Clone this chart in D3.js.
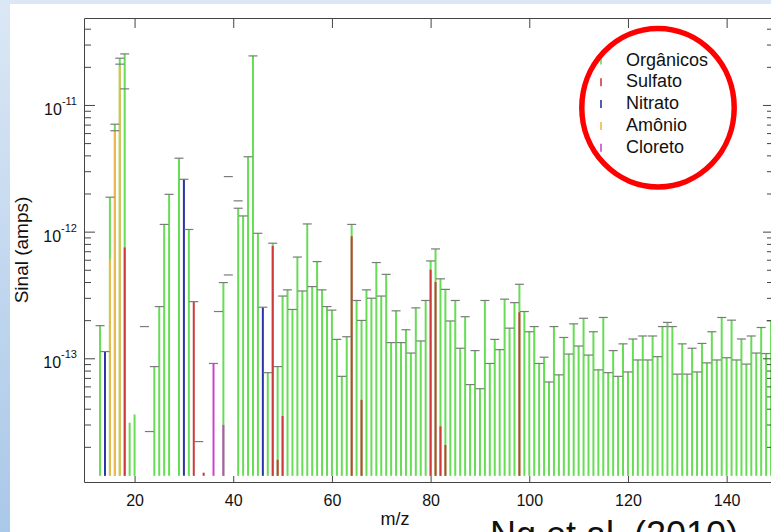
<!DOCTYPE html>
<html>
<head>
<meta charset="utf-8">
<script src="https://d3js.org/d3.v7.min.js"></script>
<style>
  body { margin: 0; overflow: hidden; background: #fff; }
  svg { display: block; }
  text { font-family: "Liberation Sans", Arial, sans-serif; fill: #111; }
</style>
</head>
<body>
<svg id="chart" width="771" height="532"></svg>
<script>
// m/z values and signal (amps)
const orgMz = [13, 15, 16, 17, 18, 19, 20, 24, 25, 26, 27, 29, 31, 38, 41, 42, 43, 44, 45, 47,
  48, 49, 50, 51, 52, 53, 54, 55, 56, 57, 58, 59, 60, 61, 62, 63, 64, 65, 66, 67,
  68, 69, 70, 71, 72, 73, 74, 75, 76, 77, 78, 79, 80, 81, 82, 83, 84, 85, 86, 87,
  88, 89, 90, 91, 92, 93, 94, 95, 96, 97, 98, 99, 100, 101, 102, 103, 104, 105, 106, 107,
  108, 109, 110, 111, 112, 113, 114, 115, 116, 117, 118, 119, 120, 121, 122, 123, 124, 125, 126, 127,
  128, 129, 130, 131, 132, 133, 134, 135, 136, 137, 138, 139, 140, 141, 142, 143, 144, 145, 146, 147,
  148, 149]
const orgVal = [1.81e-13, 1.87e-12, 7.05e-12, 2.34e-11, 2.53e-11, 3.1e-14, 3.6e-14, 8.6e-14, 2.56e-13, 1.14e-12, 1.97e-12, 3.8e-12, 1.04e-12, 3.96e-13, 1.53e-12, 1.33e-12, 3.9e-12, 2.44e-11, 9.7e-13, 7.7e-14,
  8.1e-13, 8.6e-14, 3.1e-13, 3.47e-13, 2.43e-13, 6.3e-13, 3.4e-13, 1.15e-12, 3.68e-13, 5.8e-13, 3.47e-13, 2.56e-13, 2.4e-13, 1.41e-13, 7.2e-14, 1.48e-13, 1.14e-12, 2.86e-13, 1.99e-13, 3.47e-13,
  2.98e-13, 5.7e-13, 3.1e-13, 4.6e-13, 1.33e-13, 2.37e-13, 1.33e-13, 1.68e-13, 1.1e-13, 2.5e-13, 1.37e-13, 2.86e-13, 5.87e-13, 7.3e-13, 4.24e-13, 3.5e-13, 1.97e-13, 2.86e-13, 1.2e-13, 2.13e-13,
  6.2e-14, 1.15e-13, 5.75e-14, 2.86e-13, 9.1e-14, 1.41e-13, 1.17e-13, 2.93e-13, 1.73e-13, 2.75e-13, 3.84e-13, 2.34e-13, 1.62e-13, 1.78e-13, 9.1e-14, 1.02e-13, 6.5e-14, 1.78e-13, 7.4e-14, 1.46e-13,
  1.08e-13, 1.87e-13, 1.25e-13, 2.07e-13, 1.06e-13, 1.62e-13, 8.1e-14, 2.1e-13, 7.7e-14, 1.15e-13, 7.2e-14, 1.3e-13, 7.8e-14, 1.42e-13, 9.7e-14, 1.5e-13, 9.7e-14, 1.5e-13, 1.03e-13, 1.78e-13,
  1.92e-13, 1.78e-13, 7.5e-14, 1.3e-13, 7.5e-14, 1.2e-13, 7.8e-14, 1.31e-13, 9.2e-14, 1.62e-13, 9.7e-14, 2.1e-13, 1.01e-13, 2.0e-13, 9.7e-14, 1.42e-13, 9.0e-14, 1.5e-13, 1.1e-13, 1.75e-13,
  1.09e-13, 1.98e-13]

const sulfMz = [18, 32, 34, 48, 49, 50, 64, 66, 80, 81, 82, 83, 98]
const sulfVal = [7.5e-13, 2.8e-13, 1.25e-14, 7.7e-13, 1.58e-14, 3.5e-14, 9.2e-13, 4.7e-14, 5.0e-13, 4.0e-13, 2.9e-14, 2.07e-14, 2.31e-13]
const nitMz = [14, 30, 46]
const nitVal = [1.13e-13, 2.59e-12, 2.53e-13]
const amoMz = [15, 16, 17]
const amoVal = [6.1e-13, 6.26e-12, 2.0e-11]
const cloMz = [36, 38]
const cloVal = [9.1e-14, 2.98e-14]

// loose dashes that are not on a bar top
const dashMz = [16, 17, 18, 22, 23, 33, 37, 39, 39, 41]
const dashVal = [6.26e-12, 2.1e-11, 1.34e-11, 1.78e-13, 2.64e-14, 2.2e-14, 2.34e-13, 2.72e-12, 4.55e-13, 1.75e-12]
const noCap = [19, 20, 34]

const legendNames = ['Orgânicos', 'Sulfato', 'Nitrato', 'Amônio', 'Cloreto']
const legendColors = ['#66dd55', '#cc3a3a', '#2a33a8', '#eeb850', '#cc44cc']
const xTicks = [20, 40, 60, 80, 100, 120, 140]
const yMajor = [1e-11, 1e-12, 1e-13]
const yExp = ['-11', '-12', '-13']

const svg = d3.select('#chart')

// slide background
const defs = svg.append('defs')
const grad = defs.append('linearGradient').attr('id', 'bg').attr('x1', 0).attr('y1', 0).attr('x2', 0).attr('y2', 1)
grad.append('stop').attr('offset', '0%').attr('stop-color', '#dbe7f5')
grad.append('stop').attr('offset', '100%').attr('stop-color', '#aac8e8')
svg.append('rect').attr('width', 771).attr('height', 532).attr('fill', 'url(#bg)')
svg.append('rect').attr('x', 10).attr('y', 4).attr('width', 761).attr('height', 528).attr('fill', '#fff')

defs.append('clipPath').attr('id', 'plot')
  .append('rect').attr('x', 84).attr('y', 18).attr('width', 690).attr('height', 464)

const x = d3.scaleLinear().domain([9.75, 149.6]).range([84, 774])
const y = d3.scaleLog().domain([1.055e-14, 4.86e-11]).range([482, 18])
const base = 1.18e-14

const plot = svg.append('g').attr('clip-path', 'url(#plot)')

// organics first, the other species are drawn on top from the baseline
plot.selectAll('line.org')
  .data(d3.zip(orgMz, orgVal))
  .join('line')
  .attr('class', 'org')
  .attr('x1', d => x(d[0])).attr('x2', d => x(d[0]))
  .attr('y1', y(base)).attr('y2', d => y(d[1]))
  .attr('stroke', legendColors[0]).attr('stroke-width', 2)

const species = [
  { mz: sulfMz, val: sulfVal, color: legendColors[1] },
  { mz: nitMz, val: nitVal, color: legendColors[2] },
  { mz: amoMz, val: amoVal, color: legendColors[3] },
  { mz: cloMz, val: cloVal, color: legendColors[4] }
]
species.forEach(s => {
  plot.append('g').selectAll('line')
    .data(d3.zip(s.mz, s.val))
    .join('line')
    .attr('x1', d => x(d[0])).attr('x2', d => x(d[0]))
    .attr('y1', y(base)).attr('y2', d => y(d[1]))
    .attr('stroke', s.color).attr('stroke-width', 2)
})

// caps on top of each stick
const tops = new Map()
orgMz.forEach((m, i) => tops.set(m, Math.max(tops.get(m) || 0, orgVal[i])))
species.forEach(s => s.mz.forEach((m, i) => tops.set(m, Math.max(tops.get(m) || 0, s.val[i]))))
noCap.forEach(m => tops.delete(m))
const caps = Array.from(tops).concat(d3.zip(dashMz, dashVal))

plot.selectAll('line.cap')
  .data(caps)
  .join('line')
  .attr('class', 'cap')
  .attr('x1', d => x(d[0]) - 4.5).attr('x2', d => x(d[0]) + 4.5)
  .attr('y1', d => y(d[1])).attr('y2', d => y(d[1]))
  .attr('stroke', '#7a7a7a').attr('stroke-width', 1.2)

// axes
const minor = []
for (let e = -15; e <= -11; e++) {
  for (let k = 2; k <= 9; k++) {
    const v = k * Math.pow(10, e)
    if (v > y.domain()[0] && v < y.domain()[1]) minor.push(v)
  }
}

function styleAxis(g) {
  g.selectAll('path, line').attr('stroke', '#444')
  g.selectAll('text').attr('font-size', 16).attr('fill', '#111')
    .attr('font-family', '"Liberation Sans", Arial, sans-serif')
}

svg.append('g').attr('transform', 'translate(0,482)')
  .call(d3.axisBottom(x).tickValues(xTicks).tickSizeInner(-6).tickSizeOuter(0).tickPadding(13))
  .call(styleAxis)
svg.append('g').attr('transform', 'translate(0,18)')
  .call(d3.axisTop(x).tickValues(xTicks).tickSizeInner(-10).tickSizeOuter(0).tickFormat(''))
  .call(styleAxis)

svg.append('g').attr('transform', 'translate(84,0)')
  .call(d3.axisLeft(y).tickValues(yMajor).tickSizeInner(-11).tickSizeOuter(0).tickFormat(''))
  .call(styleAxis)
svg.append('g').attr('transform', 'translate(84,0)')
  .call(d3.axisLeft(y).tickValues(minor).tickSizeInner(-7).tickSizeOuter(0).tickFormat(''))
  .call(styleAxis).select('.domain').remove()
svg.append('g').attr('transform', 'translate(774,0)')
  .call(d3.axisRight(y).tickValues(yMajor).tickSizeInner(-11).tickSizeOuter(0).tickFormat(''))
  .call(styleAxis)
svg.append('g').attr('transform', 'translate(774,0)')
  .call(d3.axisRight(y).tickValues(minor).tickSizeInner(-7).tickSizeOuter(0).tickFormat(''))
  .call(styleAxis).select('.domain').remove()

// power-of-ten labels
const yl = svg.append('g').selectAll('text')
  .data(yMajor)
  .join('text')
  .attr('x', 77).attr('y', d => y(d) + 10)
  .attr('text-anchor', 'end')
yl.append('tspan').attr('font-size', 16).text('10')
yl.append('tspan').attr('font-size', 11).attr('dy', -10).text((d, i) => yExp[i])

svg.append('text')
  .attr('transform', 'translate(28,250) rotate(-90)')
  .attr('text-anchor', 'middle')
  .attr('font-size', 19)
  .text('Sinal (amps)')

svg.append('text')
  .attr('x', 395).attr('y', 525)
  .attr('text-anchor', 'middle')
  .attr('font-size', 18)
  .text('m/z')

// legend
const leg = svg.append('g')
legendNames.forEach((n, i) => {
  const by = 65.5 + i * 21.8
  leg.append('line')
    .attr('x1', 601).attr('x2', 601)
    .attr('y1', by - 9).attr('y2', by - 1)
    .attr('stroke', legendColors[i]).attr('stroke-width', 1.6)
  leg.append('text')
    .attr('x', 626).attr('y', by)
    .attr('font-size', 18)
    .text(n)
})

// highlight ring around the legend
svg.append('ellipse')
  .attr('cx', 658).attr('cy', 107.7)
  .attr('rx', 76.2).attr('ry', 79.2)
  .attr('fill', 'none').attr('stroke', '#ff0000').attr('stroke-width', 5.5)

svg.append('text')
  .attr('x', 490).attr('y', 547)
  .attr('font-size', 36)
  .text('Ng et al. (2010)')
</script>
</body>
</html>
